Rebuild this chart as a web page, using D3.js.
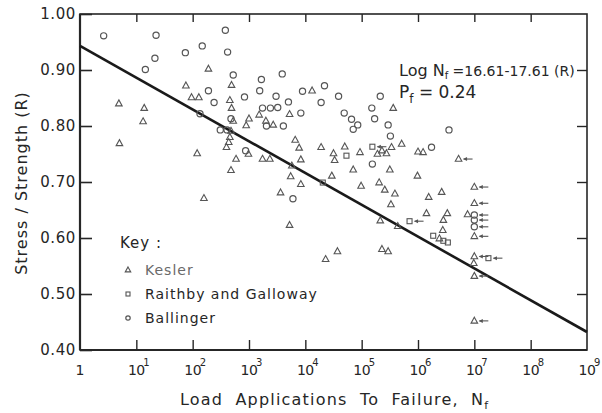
<!DOCTYPE html>
<html>
<head>
<meta charset="utf-8">
<script src="https://cdn.jsdelivr.net/npm/d3@7"></script>
<style>
  body { margin: 0; background: #ffffff; }
  svg { display: block; font-family: "DejaVu Sans", "Liberation Sans", sans-serif; }
</style>
</head>
<body>
<svg id="chart" width="602" height="413"></svg>
<script>
// Decade exponents on the cycles axis and stress-ratio ticks
const decades = [0, 1, 2, 3, 4, 5, 6, 7, 8, 9];
const rTicks = [0.4, 0.5, 0.6, 0.7, 0.8, 0.9, 1.0];

// Test results as [log10 Nf, stress/strength R]
const kesler = [
  [0.69, 0.840], [0.70, 0.769], [1.14, 0.832], [1.12, 0.808], [1.88, 0.872],
  [1.98, 0.851], [2.11, 0.851], [2.28, 0.902], [2.08, 0.751], [2.20, 0.671],
  [2.69, 0.873], [2.66, 0.846], [2.69, 0.832], [2.72, 0.809], [2.68, 0.791],
  [2.66, 0.780], [2.64, 0.771], [2.60, 0.762], [2.77, 0.741], [2.68, 0.721],
  [2.99, 0.750], [3.00, 0.813], [2.95, 0.801], [3.18, 0.820], [3.30, 0.809],
  [3.43, 0.802], [3.24, 0.741], [3.37, 0.741], [3.72, 0.821], [3.82, 0.775],
  [3.89, 0.761], [3.92, 0.740], [3.76, 0.729], [3.74, 0.710], [3.92, 0.696],
  [3.56, 0.681], [3.72, 0.623], [4.12, 0.863], [4.28, 0.762], [4.47, 0.711],
  [4.50, 0.751], [4.52, 0.739], [4.70, 0.763], [4.57, 0.576], [4.36, 0.562],
  [4.85, 0.722], [4.97, 0.753], [4.99, 0.693], [5.28, 0.750], [5.36, 0.756],
  [5.44, 0.751], [5.53, 0.762], [5.71, 0.768], [5.56, 0.832], [5.50, 0.722],
  [5.31, 0.699], [5.41, 0.686], [5.59, 0.679], [5.52, 0.660], [5.33, 0.631],
  [5.64, 0.621], [5.36, 0.580], [5.47, 0.576], [6.00, 0.754], [6.09, 0.753],
  [5.99, 0.711], [6.19, 0.673], [6.42, 0.682], [6.15, 0.644], [6.52, 0.644],
  [6.45, 0.632], [6.44, 0.614], [6.38, 0.599], [6.88, 0.642], [6.99, 0.555]
];
// Specimens that had not failed when the test was stopped
const keslerRunout = [
  [6.72, 0.741], [7.0, 0.691], [7.0, 0.662], [7.0, 0.603], [7.0, 0.567],
  [7.0, 0.532], [7.0, 0.452]
];

const raithby = [
  [4.31, 0.699], [4.73, 0.747], [6.27, 0.604], [6.45, 0.595], [6.53, 0.592]
];
const raithbyRunout = [
  [5.19, 0.763], [5.85, 0.630], [7.25, 0.564]
];

const ballinger = [
  [0.42, 0.961], [1.35, 0.962], [2.58, 0.971], [2.17, 0.943], [1.87, 0.931],
  [2.62, 0.932], [1.33, 0.921], [1.16, 0.901], [2.72, 0.891], [2.28, 0.863],
  [2.92, 0.852], [2.38, 0.842], [2.13, 0.822], [2.68, 0.813], [2.49, 0.793],
  [2.61, 0.793], [2.94, 0.756], [3.22, 0.883], [3.59, 0.893], [3.19, 0.863],
  [3.48, 0.853], [3.70, 0.843], [3.24, 0.832], [3.38, 0.832], [3.51, 0.833],
  [3.31, 0.800], [3.61, 0.800], [3.78, 0.670], [3.95, 0.862], [4.34, 0.872],
  [4.59, 0.853], [4.28, 0.842], [3.92, 0.823], [4.69, 0.823], [4.82, 0.812],
  [4.93, 0.802], [4.85, 0.794], [5.33, 0.853], [5.18, 0.832], [5.23, 0.813],
  [5.47, 0.802], [5.51, 0.782], [5.19, 0.732], [6.24, 0.762], [6.55, 0.793]
];
const ballingerRunout = [
  [7.0, 0.641], [7.0, 0.632], [7.0, 0.620]
];

// Fitted fatigue relation: Log Nf = a - b R
const fitIntercept = 16.61;
const fitSlope = 17.61;
const failureProbability = 0.24;

const legendKeys = ["Kesler", "Raithby and Galloway", "Ballinger"];

const svg = d3.select("#chart");
const ink = "#262626";
const markInk = "#555555";

const plotL = 80, plotR = 587, plotT = 14, plotB = 350;
const x = d3.scaleLog().domain([1, 1e9]).range([plotL, plotR]);
const y = d3.scaleLinear().domain([0.4, 1.0]).range([plotB, plotT]);
const px = d => x(Math.pow(10, d[0]));
const py = d => y(d[1]);

// Frame
svg.append("rect")
  .attr("x", plotL).attr("y", plotT)
  .attr("width", plotR - plotL).attr("height", plotB - plotT)
  .attr("fill", "none").attr("stroke", ink).attr("stroke-width", 1.6);
svg.append("line").attr("x1", plotL).attr("x2", plotL).attr("y1", plotT).attr("y2", plotB)
  .attr("stroke", ink).attr("stroke-width", 2.2);
svg.append("line").attr("x1", plotL).attr("x2", plotR).attr("y1", plotB).attr("y2", plotB)
  .attr("stroke", ink).attr("stroke-width", 2.2);

// Left axis, ticks pointing into the plot
const yAxis = svg.append("g")
  .attr("transform", `translate(${plotL},0)`)
  .call(d3.axisLeft(y).tickValues(rTicks).tickSize(-12).tickPadding(4)
    .tickFormat(d3.format(".2f")));
yAxis.select(".domain").remove();
yAxis.selectAll("line").attr("stroke", ink).attr("stroke-width", 1.6);
yAxis.selectAll("text").attr("fill", ink).attr("font-size", 15)
  .attr("letter-spacing", 0.6).attr("font-family", "DejaVu Sans, sans-serif");

// Right axis ticks
const yAxisR = svg.append("g")
  .attr("transform", `translate(${plotR},0)`)
  .call(d3.axisRight(y).tickValues(rTicks.slice(1, -1)).tickSize(-10).tickFormat(""));
yAxisR.select(".domain").remove();
yAxisR.selectAll("line").attr("stroke", ink).attr("stroke-width", 1.4);

// Bottom and top decade ticks
const decadeVals = decades.map(e => Math.pow(10, e));
const xAxisB = svg.append("g")
  .attr("transform", `translate(0,${plotB})`)
  .call(d3.axisBottom(x).tickValues(decadeVals.slice(1, -1)).tickSize(-10).tickFormat(""));
xAxisB.select(".domain").remove();
xAxisB.selectAll("line").attr("stroke", ink).attr("stroke-width", 1.4);

const xAxisT = svg.append("g")
  .attr("transform", `translate(0,${plotT})`)
  .call(d3.axisTop(x).tickValues(decadeVals.slice(1, -1)).tickSize(-8).tickFormat(""));
xAxisT.select(".domain").remove();
xAxisT.selectAll("line").attr("stroke", ink).attr("stroke-width", 1.4);

// Decade labels: "1", then 10 with a superscript exponent
const xLabels = svg.append("g").attr("fill", ink);
decades.forEach(e => {
  const cx = x(Math.pow(10, e));
  if (e === 0) {
    xLabels.append("text").attr("x", cx).attr("y", 375)
      .attr("text-anchor", "middle").attr("font-size", 14).text("1");
  } else {
    xLabels.append("text").attr("x", cx).attr("y", 375)
      .attr("text-anchor", "middle").attr("font-size", 14).attr("letter-spacing", -0.5).text("10");
    xLabels.append("text").attr("x", cx + 7).attr("y", 366)
      .attr("font-size", 10).text(e);
  }
});

// Regression line from the fitted relation
const fitN = [0, 9];
svg.append("path")
  .datum(fitN.map(n => [n, (fitIntercept - n) / fitSlope]))
  .attr("d", d3.line().x(px).y(py))
  .attr("fill", "none").attr("stroke", "#1a1a1a").attr("stroke-width", 2.6);

// Marker shapes
const tri = s => `M0,${-s * 0.62}L${s * 0.55},${s * 0.38}L${-s * 0.55},${s * 0.38}Z`;
function drawTriangles(g, data, s) {
  g.selectAll(null).data(data).join("path")
    .attr("transform", d => `translate(${px(d)},${py(d)})`)
    .attr("d", tri(s))
    .attr("fill", "none").attr("stroke", markInk).attr("stroke-width", 1.1);
}
function drawSquares(g, data, s) {
  g.selectAll(null).data(data).join("rect")
    .attr("x", d => px(d) - s / 2).attr("y", d => py(d) - s / 2)
    .attr("width", s).attr("height", s)
    .attr("fill", "none").attr("stroke", markInk).attr("stroke-width", 1.1);
}
function drawCircles(g, data, r) {
  g.selectAll(null).data(data).join("circle")
    .attr("cx", px).attr("cy", py).attr("r", r)
    .attr("fill", "none").attr("stroke", markInk).attr("stroke-width", 1.2);
}
function drawArrows(g, data) {
  const a = g.selectAll(null).data(data).join("g")
    .attr("transform", d => `translate(${px(d)},${py(d)})`);
  a.append("line").attr("x1", 5).attr("x2", 14).attr("y1", 0).attr("y2", 0)
    .attr("stroke", markInk).attr("stroke-width", 1.1);
  a.append("path").attr("d", "M4.5,0L8.5,-2L8.5,2Z").attr("fill", markInk);
}

const marks = svg.append("g");
drawTriangles(marks, kesler.concat(keslerRunout), 6);
drawSquares(marks, raithby.concat(raithbyRunout), 5);
drawCircles(marks, ballinger.concat(ballingerRunout), 3.1);
drawArrows(marks, keslerRunout.concat(raithbyRunout, ballingerRunout));

// Fitted relation text
const eq = svg.append("text").attr("x", 399).attr("y", 76)
  .attr("fill", ink).attr("font-size", 16);
eq.append("tspan").text("Log N");
eq.append("tspan").attr("font-size", 10).attr("dy", 3).text("f");
eq.append("tspan").attr("dy", -3).attr("font-size", 14)
  .text(` =${fitIntercept.toFixed(2)}-${fitSlope.toFixed(2)} (R)`);

const pf = svg.append("text").attr("x", 399).attr("y", 98)
  .attr("fill", ink).attr("font-size", 17);
pf.append("tspan").text("P");
pf.append("tspan").attr("font-size", 12).attr("dy", 5).text("f");
pf.append("tspan").attr("dy", -5).text(` = ${failureProbability}`);

// Key
const key = svg.append("g").attr("fill", ink).attr("font-size", 14).attr("letter-spacing", 1);
key.append("text").attr("x", 120).attr("y", 248).attr("font-size", 15).text("Key :");
const keyY = [270, 294, 318];
legendKeys.forEach((k, i) => {
  key.append("text").attr("x", 145).attr("y", keyY[i] + 5)
    .attr("fill", i === 0 ? "#6a6a6a" : ink).text(k);
});
drawTriangles(key, [[Math.log10(x.invert(128)), y.invert(keyY[0])]], 5);
drawSquares(key, [[Math.log10(x.invert(128)), y.invert(keyY[1])]], 4);
drawCircles(key, [[Math.log10(x.invert(128)), y.invert(keyY[2])]], 2.2);

// Axis titles
svg.append("text")
  .attr("transform", "translate(27,183) rotate(-90)")
  .attr("text-anchor", "middle").attr("fill", ink).attr("font-size", 16)
  .attr("letter-spacing", 1).text("Stress / Strength (R)");

const xt = svg.append("text").attr("x", 180).attr("y", 405)
  .attr("fill", ink).attr("font-size", 16).attr("letter-spacing", 1.2)
  .attr("word-spacing", 6);
xt.append("tspan").text("Load Applications To Failure, N");
xt.append("tspan").attr("font-size", 11).attr("dy", 4).text("f");
</script>
</body>
</html>
